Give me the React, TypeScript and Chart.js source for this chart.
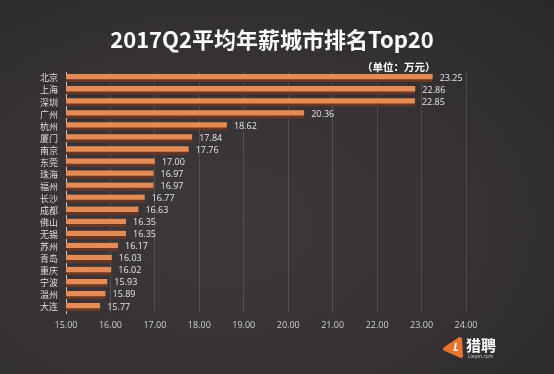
import React, { useEffect, useRef } from "react";
import { Chart, registerables } from "chart.js";

Chart.register(...registerables);

const cities = ["北京", "上海", "深圳", "广州", "杭州", "厦门", "南京", "东莞", "珠海", "福州", "长沙", "成都", "佛山", "无锡", "苏州", "青岛", "重庆", "宁波", "温州", "大连"];
const salaries = [23.25, 22.86, 22.85, 20.36, 18.62, 17.84, 17.76, 17.0, 16.97, 16.97, 16.77, 16.63, 16.35, 16.35, 16.17, 16.03, 16.02, 15.93, 15.89, 15.77];
const xMin = 15;
const xMax = 24;
const titleText = "2017Q2平均年薪城市排名Top20";
const unitText = "（单位：万元）";
const brandText = "猎聘";
const brandSub = "Liepin.com";

const FONT = "'Noto Sans CJK SC', 'Open Sans', sans-serif";

const decorPlugin = {
  id: "decor",
  afterDatasetsDraw(chart: any) {
    const ctx = chart.ctx;
    const meta = chart.getDatasetMeta(0);
    ctx.save();
    // value labels
    ctx.font = `9px 'Open Sans', sans-serif`;
    ctx.fillStyle = "#e6e6e6";
    ctx.textBaseline = "middle";
    ctx.textAlign = "left";
    meta.data.forEach((el: any, i: number) => {
      ctx.fillText(salaries[i].toFixed(2), el.x + 7, el.y);
    });
    // title
    ctx.fillStyle = "#ffffff";
    ctx.textAlign = "center";
    ctx.textBaseline = "middle";
    ctx.font = `bold 22px ${FONT}`;
    ctx.fillText(titleText, 272, 40);
    ctx.font = `bold 10.5px ${FONT}`;
    ctx.textAlign = "left";
    ctx.fillText(unitText, 362, 67);
    // logo
    ctx.fillStyle = "#e8742e";
    ctx.strokeStyle = "#e8742e";
    ctx.lineJoin = "round";
    ctx.lineWidth = 4;
    ctx.beginPath();
    ctx.moveTo(460, 339);
    ctx.lineTo(461, 356);
    ctx.lineTo(445, 349);
    ctx.closePath();
    ctx.fill();
    ctx.stroke();
    ctx.fillStyle = "#ffffff";
    ctx.font = `bold italic 11px 'Open Sans', sans-serif`;
    ctx.textAlign = "center";
    ctx.fillText("L", 456, 348);
    ctx.font = `bold 15px ${FONT}`;
    ctx.textAlign = "left";
    ctx.fillText(brandText, 466, 345);
    ctx.font = `5px 'Open Sans', sans-serif`;
    ctx.fillStyle = "#cccccc";
    ctx.fillText(brandSub, 468, 357);
    ctx.restore();
  },
};

export default function App() {
  const ref = useRef<HTMLCanvasElement>(null);
  useEffect(() => {
    document.body.style.margin = "0";
    const chart = new Chart(ref.current as HTMLCanvasElement, {
      type: "bar",
      data: {
        labels: cities,
        datasets: [
          {
            data: salaries,
            backgroundColor: "#e58c56",
            borderColor: "#6a3521",
            borderWidth: { bottom: 3, top: 0, left: 0, right: 0 } as any,
            borderSkipped: false,
            barThickness: 8,
          },
        ],
      },
      options: {
        indexAxis: "y",
        animation: false,
        responsive: false,
        devicePixelRatio: 1,
        layout: { padding: { top: 72, right: 88, bottom: 39, left: 0 } },
        plugins: { legend: { display: false }, tooltip: { enabled: false }, title: { display: false } },
        scales: {
          x: {
            type: "linear",
            min: xMin,
            max: xMax,
            afterFit: (s: any) => {
              s.height = 22;
            },
            ticks: {
              stepSize: 1,
              padding: 7,
              color: "#cfcfcf",
              font: { size: 9, family: "'Open Sans', sans-serif" },
              callback: (v: any) => Number(v).toFixed(2),
            },
            grid: { color: "rgba(255,255,255,0.13)", drawTicks: false },
            border: { display: false },
          },
          y: {
            afterFit: (s: any) => {
              s.width = 66;
            },
            ticks: {
              autoSkip: false,
              padding: 8,
              color: "#dedede",
              font: { size: 9, family: FONT },
            },
            grid: { display: false, drawTicks: false },
            border: { display: true, color: "rgba(255,255,255,0.7)", width: 1 },
          },
        },
      },
      plugins: [decorPlugin],
    });
    return () => chart.destroy();
  }, []);
  return (
    <div
      style={{
        position: "fixed",
        left: 0,
        top: 0,
        width: 554,
        height: 374,
        background: "radial-gradient(ellipse at 40% 60%, #3d393a 0%, #363233 55%, #2a2829 100%), #333",
      }}
    >
      <canvas ref={ref} width={554} height={374} style={{ display: "block" }} />
    </div>
  );
}
